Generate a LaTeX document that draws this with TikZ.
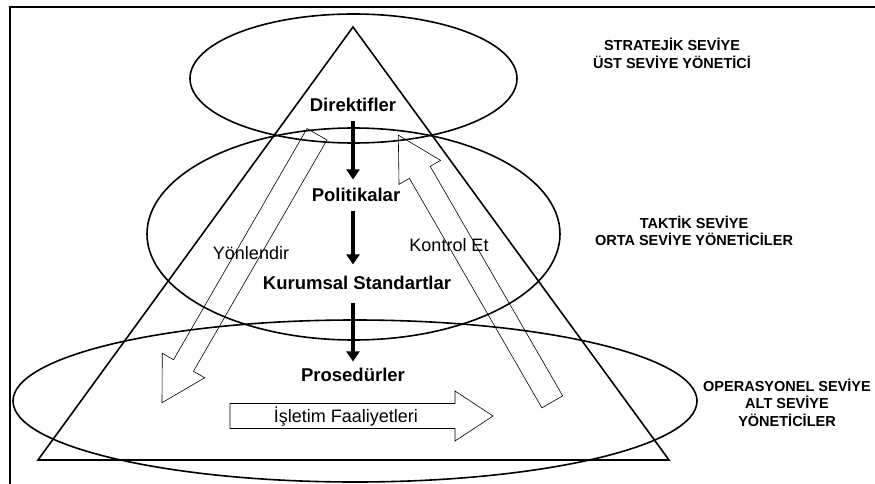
\documentclass[tikz,border=0pt]{standalone}
\usepackage{fontspec}
\setmainfont{Liberation Sans}
\usetikzlibrary{arrows.meta}

\tikzset{strong/.style = {font=\bfseries\fontsize{18.5}{22}\selectfont,
                          text height=13.5pt, text depth=0pt, inner sep=3pt},
         plain/.style  = {font=\fontsize{18}{22}\selectfont, inner sep=1pt},
         side/.style   = {font=\bfseries\fontsize{14.5}{17.5}\selectfont, align=center},
         push/.style   = {line width=4.5pt, -{Triangle[width=13pt,length=10pt]}},
         hollow/.style = {line width=0.6pt, line join=miter}
        }

\begin{document}
\begin{tikzpicture}[x=1pt, y=-1pt, line width=1.6pt]
  \useasboundingbox (0,0) rectangle (875,484);
  \draw (10,484) |- (875,7);

  % levels
  \draw (353.5,78.5) ellipse [x radius=163.5, y radius=64.5];
  \draw (353.5,234) ellipse [x radius=206.5, y radius=106];
  \draw (355,401) ellipse [x radius=342, y radius=81];

  \coordinate (apex) at (353,27);
  \coordinate (bl) at (38,460);
  \coordinate (br) at (669,460);
  \draw (apex) -- (bl) -- (br) -- cycle;

  % big hollow arrows
  \begin{scope}[shift={(239.5,268.5)}, rotate=240]
    \draw[hollow] (-155,-11.5) -- (112,-11.5) -- (112,-24.5) -- (155,0)
                  -- (112,24.5) -- (112,11.5) -- (-155,11.5) -- cycle;
  \end{scope}
  \begin{scope}[shift={(475.3,268.5)}, rotate=120]
    \draw[hollow] (-154,-12) -- (111,-12) -- (111,-24) -- (154,0)
                  -- (111,24) -- (111,12) -- (-154,12) -- cycle;
  \end{scope}
  \draw[hollow] (230,403.5) -- (455,403.5) -- (455,391) -- (493,416)
                -- (455,441) -- (455,428.5) -- (230,428.5) -- cycle;

  \node[plain] (ops) at (346,417) {İşletim Faaliyetleri};
  \node[plain] (yon) at (251,253) {Yönlendir};
  \node[plain] (kon) at (449,245) {Kontrol Et};

  % chain
  \node[strong] (dir) at (353,105) {Direktifler};
  \node[strong] (pol) at (356,195) {Politikalar};
  \node[strong] (kur) at (357,283) {Kurumsal Standartlar};
  \node[strong] (pro) at (353,375) {Prosedürler};

  \draw[push, shorten <=5pt, shorten >=5pt] (dir.south) -- (dir.south |- pol.north);
  \draw[push, shorten <=5pt, shorten >=8pt] (dir.south |- pol.south) -- (dir.south |- kur.north);
  \draw[push, shorten <=9pt, shorten >=3pt] (dir.south |- kur.south) -- (dir.south |- pro.north);

  % side labels
  \node[side] (strat) at (672,53.5) {STRATEJİK SEVİYE\\ÜST SEVİYE YÖNETİCİ};
  \node[side] (takt) at (694,231) {TAKTİK SEVİYE\\ORTA SEVİYE YÖNETİCİLER};
  \node[side] (oper) at (787,402.5) {OPERASYONEL SEVİYE\\ALT SEVİYE\\YÖNETİCİLER};
\end{tikzpicture}
\end{document}
